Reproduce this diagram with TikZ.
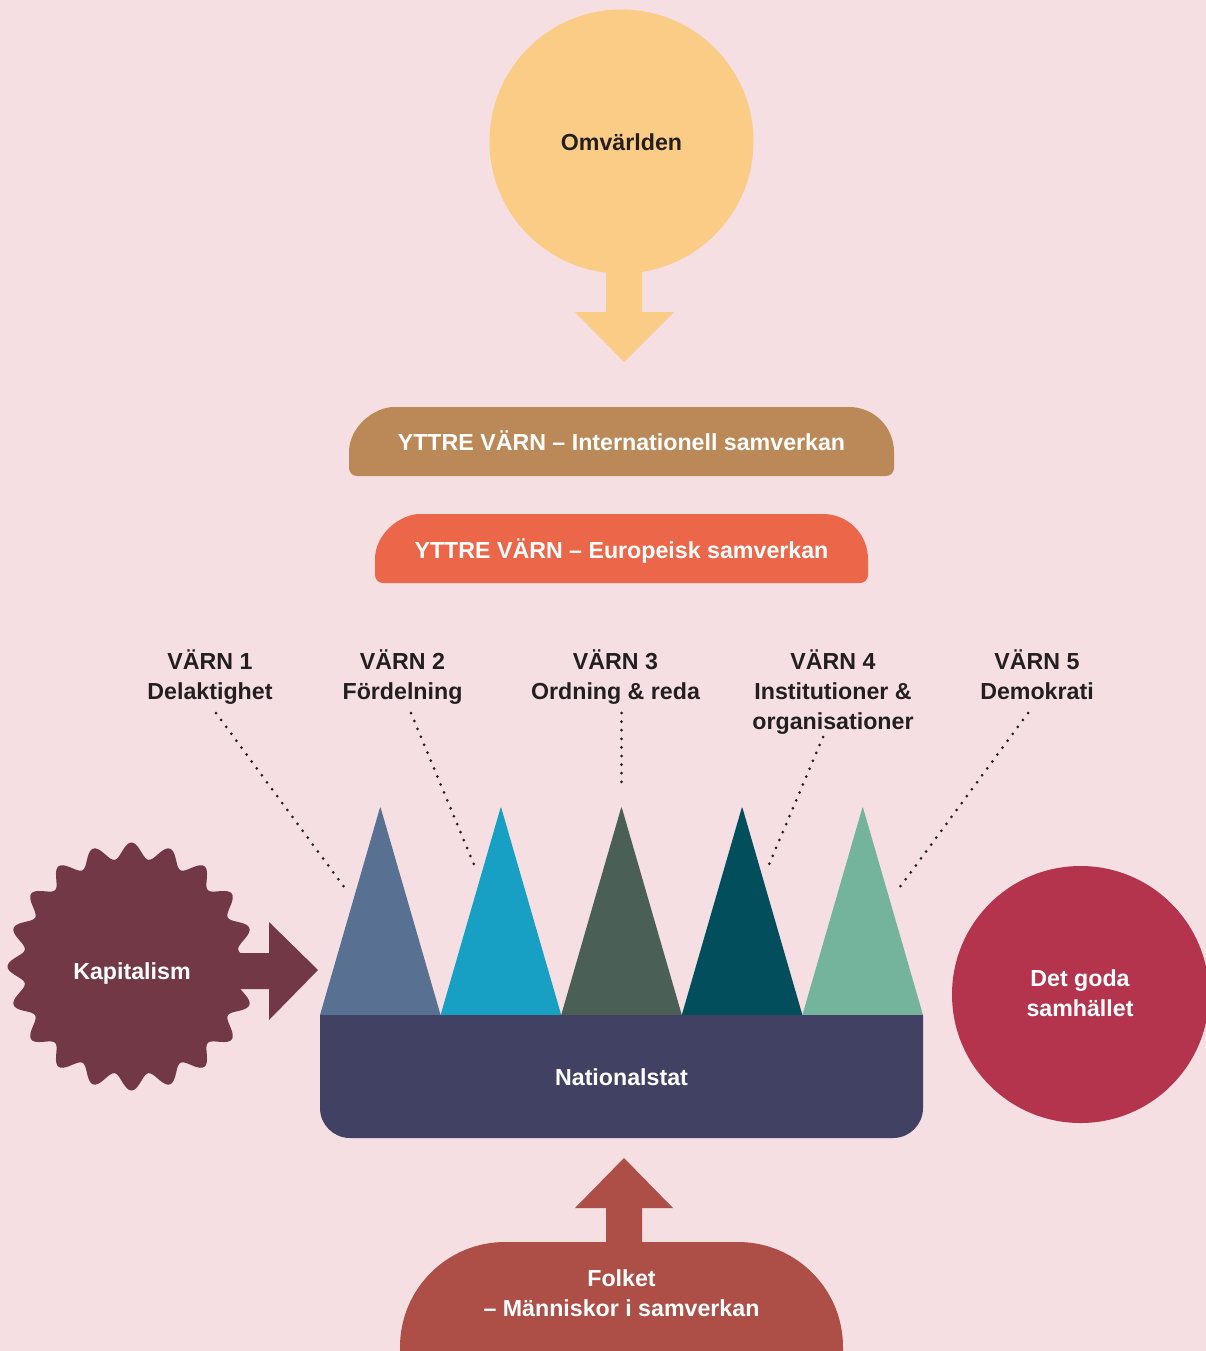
\documentclass[tikz,border=0pt]{standalone}
\usepackage{fontspec}
\setmainfont{Liberation Sans}
\definecolor{bg}{HTML}{F5DFE3}
\definecolor{omv}{HTML}{FACC86}
\definecolor{intl}{HTML}{BB8858}
\definecolor{euro}{HTML}{EC674A}
\definecolor{tA}{HTML}{587092}
\definecolor{tB}{HTML}{17A0C4}
\definecolor{tC}{HTML}{4A5F56}
\definecolor{tD}{HTML}{034E5C}
\definecolor{tE}{HTML}{74B39C}
\definecolor{nat}{HTML}{404163}
\definecolor{kap}{HTML}{723846}
\definecolor{good}{HTML}{B3344C}
\definecolor{folk}{HTML}{AD4F46}
\definecolor{ink}{HTML}{231F20}
\newcommand\pillshape[5]{%
  \fill[#5] (#1,{#4-8}) -- (#1,{#2+45}) .. controls (#1,{#2+20.1}) and ({#1+24.9},#2) .. ({#1+45},#2)
   -- ({#3-45},#2) .. controls ({#3-20.1},#2) and (#3,{#2+20.1}) .. (#3,{#2+45})
   -- (#3,{#4-8}) .. controls (#3,{#4-3.6}) and ({#3-3.6},#4) .. ({#3-8},#4)
   -- ({#1+8},#4) .. controls ({#1+3.6},#4) and (#1,{#4-3.6}) .. (#1,{#4-8}) -- cycle;}
\begin{document}
\begin{tikzpicture}[x=1pt,y=-1pt,
  lbl/.style={font=\bfseries\fontsize{23.2}{30}\selectfont, text=ink, align=center, anchor=base, inner sep=0pt},
  wlbl/.style={font=\bfseries\fontsize{23.2}{30}\selectfont, text=white, align=center, anchor=base, inner sep=0pt},
  dots/.style={draw=ink, line width=3pt, line cap=round, dash pattern=on 0pt off 8.6pt},
  disc/.style={circle, inner sep=0pt, draw=none}
]
\fill[bg] (0,0) rectangle (1206,1351);
\useasboundingbox (0,0) rectangle (1206,1351);

% Omvaerlden
\fill[omv] (606,250) -- (642,250) -- (642,312) -- (674,312) -- (624,362) -- (575,312) -- (606,312) -- cycle;
\node[disc, fill=omv, minimum size=264pt] (omv) at (621.5,141.5) {};
\node[lbl] (omvt) at (621.5,151) {Omvärlden};

% pills
\pillshape{349}{407}{894}{476}{intl}
\node[wlbl] (intlt) at (621.5,450) {YTTRE VÄRN – Internationell samverkan};
\pillshape{375}{514}{868}{583}{euro}
\node[wlbl] (eurot) at (621.5,558) {YTTRE VÄRN – Europeisk samverkan};

% labels (base anchor of a multi-line node is the last baseline)
\node[lbl] (v1) at (210,699) {VÄRN 1\\Delaktighet};
\node[lbl] (v2) at (402.5,699) {VÄRN 2\\Fördelning};
\node[lbl] (v3) at (615.5,699) {VÄRN 3\\Ordning \& reda};
\node[lbl] (v4) at (833,729) {VÄRN 4\\Institutioner \&\\organisationer};
\node[lbl] (v5) at (1037,699) {VÄRN 5\\Demokrati};

% triangles
\foreach \i/\c in {0/tA,1/tB,2/tC,3/tD,4/tE}{
  \pgfmathsetmacro\xl{320+120.6*\i}
  \pgfmathsetmacro\xm{\xl+60.3}
  \pgfmathsetmacro\xr{\xl+120.6}
  \fill[\c] (\xl,1015) -- ({\xm-1},810) .. controls (\xm,806.5) .. ({\xm+1},810) -- (\xr,1015) -- cycle;
}

% dotted leaders
\coordinate (d1a) at (216,713); \coordinate (d1b) at (347,891);
\coordinate (d2a) at (411,713); \coordinate (d2b) at (475,867);
\coordinate (d3a) at (621.5,713); \coordinate (d3b) at (621.5,788);
\coordinate (d4a) at (823,737); \coordinate (d4b) at (768,867);
\coordinate (d5a) at (1028,713); \coordinate (d5b) at (897,891);
\foreach \k in {1,...,5}{\draw[dots] (d\k a) -- (d\k b);}

% Nationalstat
\fill[nat] (320,1015) -- (923,1015) -- (923,1108) .. controls (923,1124.6) and (909.6,1138) .. (893,1138)
  -- (350,1138) .. controls (333.4,1138) and (320,1124.6) .. (320,1108) -- cycle;
\node[wlbl] (natt) at (621.5,1085) {Nationalstat};

% Kapitalism
\fill[kap, shift={(131.5,966.5)}] plot[domain=0:359, samples=360, smooth cycle] (\x:{116+8*cos(20*\x)});
\fill[kap] (235,953) -- (269,953) -- (269,922) -- (318,970) -- (269,1020) -- (269,989) -- (235,989) -- cycle;
\node[wlbl] (kapt) at (132,979) {Kapitalism};

% Det goda samhaellet
\node[disc, fill=good, minimum size=257pt] (good) at (1080.5,994.5) {};
\node[wlbl] (goodt) at (1080,1016) {Det goda\\samhället};

% Folket
\fill[folk] (606,1250) -- (642,1250) -- (642,1208) -- (673,1208) -- (624,1158) -- (575,1208) -- (606,1208) -- cycle;
\fill[folk] (400,1351) -- (400,1347) .. controls (400,1289) and (447,1242) .. (505,1242) -- (738,1242)
  .. controls (796,1242) and (843,1289) .. (843,1347) -- (843,1351) -- cycle;
\node[wlbl] (folkt) at (621.5,1316) {Folket\\– Människor i samverkan};
\end{tikzpicture}
\end{document}
